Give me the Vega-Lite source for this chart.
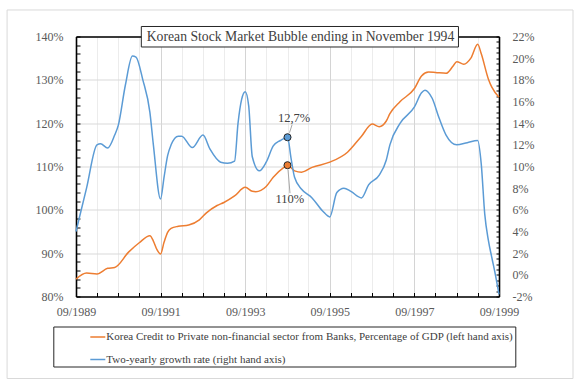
{
  "$schema": "https://vega.github.io/schema/vega-lite/v6.json",
  "width": 423,
  "height": 260,
  "autosize": {"type": "none"},
  "padding": {"left": 76, "top": 36.5, "right": 82, "bottom": 89.5},
  "background": "white",
  "title": {
    "text": "Korean Stock Market Bubble ending in November 1994",
    "font": "Liberation Serif",
    "fontSize": 13.7,
    "fontWeight": "normal",
    "color": "#404040",
    "anchor": "middle",
    "frame": "group",
    "dx": 13,
    "offset": -34,
    "zindex": 1
  },
  "config": {
    "view": {"stroke": null},
    "font": "Liberation Serif",
    "axis": {
      "labelFont": "Liberation Serif",
      "labelFontSize": 12,
      "labelColor": "#595959",
      "labelOverlap": false,
      "domainColor": "#000000",
      "domainWidth": 1.6,
      "tickColor": "#000000",
      "tickWidth": 1,
      "title": null
    }
  },
  "datasets": {
    "credit": [
      {"date": "1989/09/01", "value": 84.0, "series": "Korea Credit to Private non-financial sector from Banks, Percentage of GDP (left hand axis)"},
      {"date": "1989/12/01", "value": 85.4, "series": "Korea Credit to Private non-financial sector from Banks, Percentage of GDP (left hand axis)"},
      {"date": "1990/03/01", "value": 85.2, "series": "Korea Credit to Private non-financial sector from Banks, Percentage of GDP (left hand axis)"},
      {"date": "1990/06/01", "value": 86.5, "series": "Korea Credit to Private non-financial sector from Banks, Percentage of GDP (left hand axis)"},
      {"date": "1990/08/01", "value": 86.7, "series": "Korea Credit to Private non-financial sector from Banks, Percentage of GDP (left hand axis)"},
      {"date": "1990/12/01", "value": 90.3, "series": "Korea Credit to Private non-financial sector from Banks, Percentage of GDP (left hand axis)"},
      {"date": "1991/03/01", "value": 92.4, "series": "Korea Credit to Private non-financial sector from Banks, Percentage of GDP (left hand axis)"},
      {"date": "1991/06/01", "value": 94.0, "series": "Korea Credit to Private non-financial sector from Banks, Percentage of GDP (left hand axis)"},
      {"date": "1991/07/01", "value": 92.8, "series": "Korea Credit to Private non-financial sector from Banks, Percentage of GDP (left hand axis)"},
      {"date": "1991/08/01", "value": 90.8, "series": "Korea Credit to Private non-financial sector from Banks, Percentage of GDP (left hand axis)"},
      {"date": "1991/09/01", "value": 89.8, "series": "Korea Credit to Private non-financial sector from Banks, Percentage of GDP (left hand axis)"},
      {"date": "1991/10/01", "value": 92.5, "series": "Korea Credit to Private non-financial sector from Banks, Percentage of GDP (left hand axis)"},
      {"date": "1991/11/01", "value": 94.8, "series": "Korea Credit to Private non-financial sector from Banks, Percentage of GDP (left hand axis)"},
      {"date": "1991/12/01", "value": 95.7, "series": "Korea Credit to Private non-financial sector from Banks, Percentage of GDP (left hand axis)"},
      {"date": "1992/02/01", "value": 96.2, "series": "Korea Credit to Private non-financial sector from Banks, Percentage of GDP (left hand axis)"},
      {"date": "1992/05/01", "value": 96.5, "series": "Korea Credit to Private non-financial sector from Banks, Percentage of GDP (left hand axis)"},
      {"date": "1992/08/01", "value": 97.7, "series": "Korea Credit to Private non-financial sector from Banks, Percentage of GDP (left hand axis)"},
      {"date": "1992/10/01", "value": 99.3, "series": "Korea Credit to Private non-financial sector from Banks, Percentage of GDP (left hand axis)"},
      {"date": "1993/01/01", "value": 101.0, "series": "Korea Credit to Private non-financial sector from Banks, Percentage of GDP (left hand axis)"},
      {"date": "1993/03/01", "value": 101.7, "series": "Korea Credit to Private non-financial sector from Banks, Percentage of GDP (left hand axis)"},
      {"date": "1993/06/01", "value": 103.2, "series": "Korea Credit to Private non-financial sector from Banks, Percentage of GDP (left hand axis)"},
      {"date": "1993/09/01", "value": 105.2, "series": "Korea Credit to Private non-financial sector from Banks, Percentage of GDP (left hand axis)"},
      {"date": "1993/11/01", "value": 104.3, "series": "Korea Credit to Private non-financial sector from Banks, Percentage of GDP (left hand axis)"},
      {"date": "1993/12/01", "value": 104.2, "series": "Korea Credit to Private non-financial sector from Banks, Percentage of GDP (left hand axis)"},
      {"date": "1994/03/01", "value": 105.4, "series": "Korea Credit to Private non-financial sector from Banks, Percentage of GDP (left hand axis)"},
      {"date": "1994/05/01", "value": 107.5, "series": "Korea Credit to Private non-financial sector from Banks, Percentage of GDP (left hand axis)"},
      {"date": "1994/08/01", "value": 109.8, "series": "Korea Credit to Private non-financial sector from Banks, Percentage of GDP (left hand axis)"},
      {"date": "1994/09/01", "value": 110.3, "series": "Korea Credit to Private non-financial sector from Banks, Percentage of GDP (left hand axis)"},
      {"date": "1994/11/01", "value": 109.0, "series": "Korea Credit to Private non-financial sector from Banks, Percentage of GDP (left hand axis)"},
      {"date": "1995/01/01", "value": 108.7, "series": "Korea Credit to Private non-financial sector from Banks, Percentage of GDP (left hand axis)"},
      {"date": "1995/04/01", "value": 109.8, "series": "Korea Credit to Private non-financial sector from Banks, Percentage of GDP (left hand axis)"},
      {"date": "1995/09/01", "value": 111.0, "series": "Korea Credit to Private non-financial sector from Banks, Percentage of GDP (left hand axis)"},
      {"date": "1996/02/01", "value": 113.3, "series": "Korea Credit to Private non-financial sector from Banks, Percentage of GDP (left hand axis)"},
      {"date": "1996/06/01", "value": 117.0, "series": "Korea Credit to Private non-financial sector from Banks, Percentage of GDP (left hand axis)"},
      {"date": "1996/09/01", "value": 119.8, "series": "Korea Credit to Private non-financial sector from Banks, Percentage of GDP (left hand axis)"},
      {"date": "1996/11/01", "value": 119.2, "series": "Korea Credit to Private non-financial sector from Banks, Percentage of GDP (left hand axis)"},
      {"date": "1997/01/01", "value": 120.5, "series": "Korea Credit to Private non-financial sector from Banks, Percentage of GDP (left hand axis)"},
      {"date": "1997/02/01", "value": 122.2, "series": "Korea Credit to Private non-financial sector from Banks, Percentage of GDP (left hand axis)"},
      {"date": "1997/05/01", "value": 125.0, "series": "Korea Credit to Private non-financial sector from Banks, Percentage of GDP (left hand axis)"},
      {"date": "1997/09/01", "value": 128.0, "series": "Korea Credit to Private non-financial sector from Banks, Percentage of GDP (left hand axis)"},
      {"date": "1997/11/01", "value": 130.9, "series": "Korea Credit to Private non-financial sector from Banks, Percentage of GDP (left hand axis)"},
      {"date": "1998/01/01", "value": 131.8, "series": "Korea Credit to Private non-financial sector from Banks, Percentage of GDP (left hand axis)"},
      {"date": "1998/03/01", "value": 131.7, "series": "Korea Credit to Private non-financial sector from Banks, Percentage of GDP (left hand axis)"},
      {"date": "1998/06/01", "value": 131.5, "series": "Korea Credit to Private non-financial sector from Banks, Percentage of GDP (left hand axis)"},
      {"date": "1998/08/01", "value": 133.2, "series": "Korea Credit to Private non-financial sector from Banks, Percentage of GDP (left hand axis)"},
      {"date": "1998/09/01", "value": 134.2, "series": "Korea Credit to Private non-financial sector from Banks, Percentage of GDP (left hand axis)"},
      {"date": "1998/11/01", "value": 133.6, "series": "Korea Credit to Private non-financial sector from Banks, Percentage of GDP (left hand axis)"},
      {"date": "1999/01/01", "value": 135.0, "series": "Korea Credit to Private non-financial sector from Banks, Percentage of GDP (left hand axis)"},
      {"date": "1999/03/01", "value": 138.2, "series": "Korea Credit to Private non-financial sector from Banks, Percentage of GDP (left hand axis)"},
      {"date": "1999/04/01", "value": 136.0, "series": "Korea Credit to Private non-financial sector from Banks, Percentage of GDP (left hand axis)"},
      {"date": "1999/06/01", "value": 130.2, "series": "Korea Credit to Private non-financial sector from Banks, Percentage of GDP (left hand axis)"},
      {"date": "1999/07/01", "value": 128.3, "series": "Korea Credit to Private non-financial sector from Banks, Percentage of GDP (left hand axis)"},
      {"date": "1999/09/01", "value": 126.0, "series": "Korea Credit to Private non-financial sector from Banks, Percentage of GDP (left hand axis)"}
    ],
    "growth": [
      {"date": "1989/09/01", "value": 4.0, "series": "Two-yearly growth rate (right hand axis)"},
      {"date": "1989/12/01", "value": 8.0, "series": "Two-yearly growth rate (right hand axis)"},
      {"date": "1990/03/01", "value": 12.0, "series": "Two-yearly growth rate (right hand axis)"},
      {"date": "1990/04/01", "value": 12.1, "series": "Two-yearly growth rate (right hand axis)"},
      {"date": "1990/06/01", "value": 11.7, "series": "Two-yearly growth rate (right hand axis)"},
      {"date": "1990/08/01", "value": 12.9, "series": "Two-yearly growth rate (right hand axis)"},
      {"date": "1990/09/01", "value": 13.8, "series": "Two-yearly growth rate (right hand axis)"},
      {"date": "1990/11/01", "value": 17.5, "series": "Two-yearly growth rate (right hand axis)"},
      {"date": "1991/01/01", "value": 20.2, "series": "Two-yearly growth rate (right hand axis)"},
      {"date": "1991/02/01", "value": 20.1, "series": "Two-yearly growth rate (right hand axis)"},
      {"date": "1991/04/01", "value": 18.0, "series": "Two-yearly growth rate (right hand axis)"},
      {"date": "1991/06/01", "value": 15.0, "series": "Two-yearly growth rate (right hand axis)"},
      {"date": "1991/07/01", "value": 12.0, "series": "Two-yearly growth rate (right hand axis)"},
      {"date": "1991/09/01", "value": 7.0, "series": "Two-yearly growth rate (right hand axis)"},
      {"date": "1991/10/01", "value": 9.0, "series": "Two-yearly growth rate (right hand axis)"},
      {"date": "1991/11/01", "value": 11.0, "series": "Two-yearly growth rate (right hand axis)"},
      {"date": "1991/12/01", "value": 12.0, "series": "Two-yearly growth rate (right hand axis)"},
      {"date": "1992/02/01", "value": 12.8, "series": "Two-yearly growth rate (right hand axis)"},
      {"date": "1992/03/01", "value": 12.8, "series": "Two-yearly growth rate (right hand axis)"},
      {"date": "1992/06/01", "value": 11.75, "series": "Two-yearly growth rate (right hand axis)"},
      {"date": "1992/09/01", "value": 12.9, "series": "Two-yearly growth rate (right hand axis)"},
      {"date": "1992/11/01", "value": 11.6, "series": "Two-yearly growth rate (right hand axis)"},
      {"date": "1993/02/01", "value": 10.4, "series": "Two-yearly growth rate (right hand axis)"},
      {"date": "1993/04/01", "value": 10.3, "series": "Two-yearly growth rate (right hand axis)"},
      {"date": "1993/06/01", "value": 10.5, "series": "Two-yearly growth rate (right hand axis)"},
      {"date": "1993/07/01", "value": 14.0, "series": "Two-yearly growth rate (right hand axis)"},
      {"date": "1993/08/01", "value": 16.2, "series": "Two-yearly growth rate (right hand axis)"},
      {"date": "1993/09/01", "value": 16.9, "series": "Two-yearly growth rate (right hand axis)"},
      {"date": "1993/10/01", "value": 15.6, "series": "Two-yearly growth rate (right hand axis)"},
      {"date": "1993/11/01", "value": 10.9, "series": "Two-yearly growth rate (right hand axis)"},
      {"date": "1994/01/01", "value": 9.6, "series": "Two-yearly growth rate (right hand axis)"},
      {"date": "1994/03/01", "value": 10.4, "series": "Two-yearly growth rate (right hand axis)"},
      {"date": "1994/05/01", "value": 11.9, "series": "Two-yearly growth rate (right hand axis)"},
      {"date": "1994/07/01", "value": 12.4, "series": "Two-yearly growth rate (right hand axis)"},
      {"date": "1994/09/01", "value": 12.7, "series": "Two-yearly growth rate (right hand axis)"},
      {"date": "1994/10/01", "value": 10.8, "series": "Two-yearly growth rate (right hand axis)"},
      {"date": "1994/11/01", "value": 9.0, "series": "Two-yearly growth rate (right hand axis)"},
      {"date": "1995/01/01", "value": 7.9, "series": "Two-yearly growth rate (right hand axis)"},
      {"date": "1995/04/01", "value": 7.1, "series": "Two-yearly growth rate (right hand axis)"},
      {"date": "1995/07/01", "value": 5.9, "series": "Two-yearly growth rate (right hand axis)"},
      {"date": "1995/09/01", "value": 5.35, "series": "Two-yearly growth rate (right hand axis)"},
      {"date": "1995/11/01", "value": 7.6, "series": "Two-yearly growth rate (right hand axis)"},
      {"date": "1996/01/01", "value": 8.0, "series": "Two-yearly growth rate (right hand axis)"},
      {"date": "1996/03/01", "value": 7.7, "series": "Two-yearly growth rate (right hand axis)"},
      {"date": "1996/06/01", "value": 7.1, "series": "Two-yearly growth rate (right hand axis)"},
      {"date": "1996/08/01", "value": 8.3, "series": "Two-yearly growth rate (right hand axis)"},
      {"date": "1996/11/01", "value": 9.2, "series": "Two-yearly growth rate (right hand axis)"},
      {"date": "1997/01/01", "value": 10.6, "series": "Two-yearly growth rate (right hand axis)"},
      {"date": "1997/02/01", "value": 12.0, "series": "Two-yearly growth rate (right hand axis)"},
      {"date": "1997/05/01", "value": 14.0, "series": "Two-yearly growth rate (right hand axis)"},
      {"date": "1997/09/01", "value": 15.5, "series": "Two-yearly growth rate (right hand axis)"},
      {"date": "1997/11/01", "value": 16.8, "series": "Two-yearly growth rate (right hand axis)"},
      {"date": "1997/12/01", "value": 17.05, "series": "Two-yearly growth rate (right hand axis)"},
      {"date": "1998/02/01", "value": 16.3, "series": "Two-yearly growth rate (right hand axis)"},
      {"date": "1998/04/01", "value": 14.5, "series": "Two-yearly growth rate (right hand axis)"},
      {"date": "1998/06/01", "value": 12.9, "series": "Two-yearly growth rate (right hand axis)"},
      {"date": "1998/09/01", "value": 12.0, "series": "Two-yearly growth rate (right hand axis)"},
      {"date": "1998/12/01", "value": 12.2, "series": "Two-yearly growth rate (right hand axis)"},
      {"date": "1999/03/01", "value": 12.4, "series": "Two-yearly growth rate (right hand axis)"},
      {"date": "1999/04/01", "value": 10.2, "series": "Two-yearly growth rate (right hand axis)"},
      {"date": "1999/05/01", "value": 5.6, "series": "Two-yearly growth rate (right hand axis)"},
      {"date": "1999/06/01", "value": 3.2, "series": "Two-yearly growth rate (right hand axis)"},
      {"date": "1999/07/01", "value": 1.6, "series": "Two-yearly growth rate (right hand axis)"},
      {"date": "1999/08/01", "value": 0.0, "series": "Two-yearly growth rate (right hand axis)"},
      {"date": "1999/09/01", "value": -1.8, "series": "Two-yearly growth rate (right hand axis)"}
    ],
    "creditPoint": [{"date": "1994/09/01", "value": 110.3, "label": "110%"}],
    "growthPoint": [{"date": "1994/09/01", "value": 12.7, "label": "12,7%"}]
  },
  "layer": [
    {
      "encoding": {
        "x": {"field": "date", "type": "temporal",
          "scale": {"domain": [{"year": 1989, "month": 9, "date": 1}, {"year": 1999, "month": 9, "date": 1}], "nice": false},
          "axis": {
            "orient": "bottom",
            "values": [{"year":1989,"month":9,"date":1},{"year":1990,"month":3,"date":1},{"year":1990,"month":9,"date":1},{"year":1991,"month":3,"date":1},{"year":1991,"month":9,"date":1},{"year":1992,"month":3,"date":1},{"year":1992,"month":9,"date":1},{"year":1993,"month":3,"date":1},{"year":1993,"month":9,"date":1},{"year":1994,"month":3,"date":1},{"year":1994,"month":9,"date":1},{"year":1995,"month":3,"date":1},{"year":1995,"month":9,"date":1},{"year":1996,"month":3,"date":1},{"year":1996,"month":9,"date":1},{"year":1997,"month":3,"date":1},{"year":1997,"month":9,"date":1},{"year":1998,"month":3,"date":1},{"year":1998,"month":9,"date":1},{"year":1999,"month":3,"date":1},{"year":1999,"month":9,"date":1}],
            "labelExpr": "month(datum.value) == 8 && year(datum.value) % 2 == 1 ? timeFormat(datum.value, '%m/%Y') : ''",
            "labelFlush": false,
            "labelOverlap": false,
            "labelBound": false,
            "grid": true,
            "gridColor": {"condition": {"test": "month(datum.value) == 8 && year(datum.value) % 2 == 1", "value": "#d4d4d4"}, "value": "#ececec"},
            "gridWidth": 1,
            "tickSize": -4,
            "labelPadding": 14,
            "title": null
          }
        },
        "y": {"field": "value", "type": "quantitative", "scale": {"domain": [80, 140], "nice": false, "zero": false},
          "axis": {
            "orient": "left",
            "values": [80,82,84,86,88,90,92,94,96,98,100,102,104,106,108,110,112,114,116,118,120,122,124,126,128,130,132,134,136,138,140],
            "labelExpr": "datum.value % 10 == 0 ? datum.value + '%' : ''",
            "grid": true,
            "gridColor": "#d9d9d9",
            "gridOpacity": {"condition": {"test": "datum.value % 10 == 0", "value": 1}, "value": 0},
            "tickSize": -4,
            "labelPadding": 17,
            "labelOverlap": false,
            "labelBound": false,
            "labelFlush": false,
            "title": null
          }
        }
      },
      "layer": [
        {
          "data": {"name": "credit"},
          "mark": {"type": "line", "interpolate": "monotone", "strokeWidth": 1.5},
          "encoding": {
            "color": {
              "field": "series",
              "type": "nominal",
              "scale": {
                "domain": ["Korea Credit to Private non-financial sector from Banks, Percentage of GDP (left hand axis)", "Two-yearly growth rate (right hand axis)"],
                "range": ["#ED7D31", "#5B9BD5"]
              },
              "legend": {
                "orient": "none",
                "legendX": -22.7,
                "legendY": 290,
                "direction": "vertical",
                "title": null,
                "strokeColor": "#262626",
                "padding": 2,
                "symbolType": "stroke",
                "symbolSize": 225,
                "symbolStrokeWidth": 1.5,
                "symbolOffset": 34,
                "labelOffset": 0,
                "labelFont": "Liberation Serif",
                "labelFontSize": 11,
                "labelColor": "#404040",
                "labelLimit": 800,
                "rowPadding": 8.5
              }
            }
          }
        },
        {
          "data": {"name": "creditPoint"},
          "mark": {"type": "point", "shape": "M0.017,0.15L0.083,0.933", "size": 3600, "filled": false, "stroke": "#a6a6a6", "strokeWidth": 1, "opacity": 1}
        },
        {
          "data": {"name": "creditPoint"},
          "mark": {"type": "point", "shape": "circle", "size": 50, "filled": true, "fill": "#ED7D31", "stroke": "#262626", "strokeWidth": 1, "opacity": 1}
        },
        {
          "data": {"name": "creditPoint"},
          "mark": {"type": "text", "font": "Liberation Serif", "fontSize": 12.5, "color": "#404040", "dx": 2.3, "dy": 34, "baseline": "middle", "align": "center"},
          "encoding": {"text": {"field": "label"}}
        }
      ]
    },
    {
      "encoding": {
        "x": {"field": "date", "type": "temporal",
          "axis": {"orient": "top", "labels": false, "ticks": false, "grid": false, "domain": true, "title": null}
        },
        "y": {"field": "value", "type": "quantitative", "scale": {"domain": [-2, 22], "nice": false, "zero": false},
          "axis": {
            "orient": "right",
            "values": [-2,-1.5,-1,-0.5,0,0.5,1,1.5,2,2.5,3,3.5,4,4.5,5,5.5,6,6.5,7,7.5,8,8.5,9,9.5,10,10.5,11,11.5,12,12.5,13,13.5,14,14.5,15,15.5,16,16.5,17,17.5,18,18.5,19,19.5,20,20.5,21,21.5,22],
            "labelExpr": "datum.value % 2 == 0 ? datum.value + '%' : ''",
            "grid": false,
            "tickSize": -3,
            "labelPadding": 16,
            "labelOverlap": false,
            "labelBound": false,
            "labelFlush": false,
            "title": null
          }
        }
      },
      "layer": [
        {
          "data": {"name": "growth"},
          "mark": {"type": "line", "interpolate": "monotone", "strokeWidth": 1.5},
          "encoding": {
            "color": {"field": "series", "type": "nominal", "legend": null}
          }
        },
        {
          "data": {"name": "growthPoint"},
          "mark": {"type": "point", "shape": "M0.067,-0.15L0.153,-0.417", "size": 3600, "filled": false, "stroke": "#a6a6a6", "strokeWidth": 1, "opacity": 1}
        },
        {
          "data": {"name": "growthPoint"},
          "mark": {"type": "point", "shape": "circle", "size": 50, "filled": true, "fill": "#5B9BD5", "stroke": "#262626", "strokeWidth": 1, "opacity": 1}
        },
        {
          "data": {"name": "growthPoint"},
          "mark": {"type": "text", "font": "Liberation Serif", "fontSize": 12.5, "color": "#404040", "dx": 6.6, "dy": -19, "baseline": "middle", "align": "center"},
          "encoding": {"text": {"field": "label"}}
        }
      ]
    },
    {
      "layer": [
        {
          "data": {"name": "creditPoint"},
          "mark": {"type": "rect", "filled": false, "stroke": "#d9d9d9", "strokeWidth": 1},
          "encoding": {
            "x": {"datum": {"year": 1988, "month": 1, "date": 15}, "type": "temporal", "axis": null},
            "x2": {"datum": {"year": 2001, "month": 6, "date": 1}},
            "y": {"datum": 146.12, "type": "quantitative", "axis": null, "scale": {"domain": [80, 140], "nice": false, "zero": false}},
            "y2": {"datum": 61.07}
          }
        },
        {
          "data": {"name": "creditPoint"},
          "mark": {"type": "rect", "fill": "white", "stroke": "#262626", "strokeWidth": 1},
          "encoding": {
            "x": {"datum": {"year": 1991, "month": 3, "date": 19}, "type": "temporal", "axis": null},
            "x2": {"datum": {"year": 1998, "month": 9, "date": 16}},
            "y": {"datum": 142.31, "type": "quantitative", "axis": null},
            "y2": {"datum": 137.58}
          }
        }
      ]
    }
  ],
  "resolve": {"scale": {"y": "independent"}, "axis": {"x": "independent"}}
}
